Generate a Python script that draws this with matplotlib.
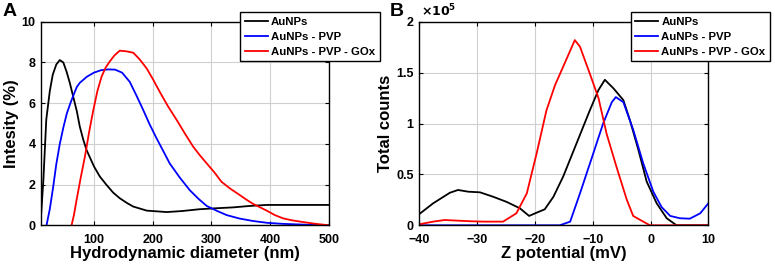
import matplotlib
matplotlib.use("Agg")
import matplotlib.pyplot as plt

plt.rcParams['font.family'] = ['Liberation Sans', 'DejaVu Sans']
plt.rcParams['font.weight'] = 'bold'

labels = ["AuNPs", "AuNPs - PVP", "AuNPs - PVP - GOx"]
colors = ["black", "blue", "red"]

# Panel A: hydrodynamic diameter (nm) vs intensity (%)
a_black_x = [9, 14, 19, 25, 30, 36, 42, 48, 53.5, 59, 65, 71, 76, 82, 87.5, 100, 110, 121.6, 133, 144, 156, 167, 190, 224, 250, 280, 310, 337, 365, 394, 430, 460, 500]
a_black_y = [0, 2.2, 5.2, 6.6, 7.4, 7.9, 8.12, 8.0, 7.55, 7.0, 6.3, 5.6, 4.85, 4.2, 3.7, 2.9, 2.4, 1.98, 1.6, 1.33, 1.1, 0.92, 0.72, 0.65, 0.7, 0.79, 0.84, 0.88, 0.95, 1.0, 1.0, 1.0, 1.0]
a_blue_x = [19.4, 25, 30.8, 36, 42, 48, 54, 60, 66, 71, 76, 88, 100, 112, 124, 136, 148, 161, 172, 184, 195, 206.7, 218, 229, 246, 263, 278, 292, 310, 326, 348, 371, 395, 422, 460, 500]
a_blue_y = [0, 0.8, 1.9, 3.0, 4.0, 4.8, 5.5, 6.0, 6.45, 6.8, 7.0, 7.3, 7.5, 7.62, 7.66, 7.65, 7.5, 7.05, 6.4, 5.66, 4.95, 4.27, 3.65, 3.04, 2.35, 1.73, 1.3, 0.95, 0.7, 0.5, 0.33, 0.21, 0.12, 0.07, 0.03, 0]
a_red_x = [62, 66, 70.5, 78, 84.7, 92, 99, 106, 113, 120, 127, 135, 144, 155, 167, 178, 190, 201, 212, 226, 241, 255, 269, 280, 292, 305, 317, 332, 348, 360, 371, 383, 394, 408, 422, 436, 451, 475, 500]
a_red_y = [0, 0.5, 1.24, 2.4, 3.37, 4.6, 5.66, 6.6, 7.3, 7.75, 8.05, 8.35, 8.58, 8.55, 8.48, 8.15, 7.7, 7.15, 6.56, 5.85, 5.17, 4.5, 3.86, 3.45, 3.04, 2.6, 2.14, 1.8, 1.49, 1.25, 1.05, 0.88, 0.72, 0.5, 0.34, 0.25, 0.18, 0.08, 0]

# Panel B: zeta potential (mV) vs total counts (x1e5)
b_black_x = [-40, -37.6, -34.7, -33.3, -31.5, -29.5, -27.2, -24.9, -22.6, -21, -19.7, -18.3, -16.8, -15.1, -12.8, -10.5, -9.0, -7.9, -6.4, -4.7, -3.55, -2.1, -0.67, 1.06, 2.8, 4.5, 10]
b_black_y = [0.11, 0.216, 0.32, 0.347, 0.33, 0.324, 0.28, 0.23, 0.167, 0.092, 0.124, 0.157, 0.28, 0.48, 0.805, 1.13, 1.33, 1.43, 1.345, 1.23, 1.03, 0.74, 0.43, 0.216, 0.069, 0, 0]
b_blue_x = [-40, -15.7, -13.9, -12.2, -9.9, -8.2, -6.7, -6.0, -4.7, -3.0, -1.27, 0.48, 1.9, 3.4, 5.1, 6.8, 8.6, 10]
b_blue_y = [0, 0, 0.036, 0.314, 0.707, 1.0, 1.21, 1.26, 1.21, 0.94, 0.61, 0.33, 0.18, 0.092, 0.069, 0.065, 0.118, 0.216]
b_red_x = [-40, -37.6, -35.6, -33.5, -31.2, -28.9, -25.5, -23.2, -21.4, -19.7, -18, -16.5, -15.1, -13.6, -13.1, -12.2, -10.5, -9.0, -7.6, -5.9, -4.1, -3.0, -1.27, -0.1, 10]
b_red_y = [0.01, 0.036, 0.052, 0.046, 0.04, 0.036, 0.036, 0.118, 0.314, 0.707, 1.13, 1.38, 1.56, 1.755, 1.82, 1.755, 1.49, 1.25, 0.90, 0.576, 0.25, 0.092, 0.036, 0, 0]

fig = plt.figure(figsize=(7.75, 2.69), dpi=100)
axA = fig.add_axes([0.0529, 0.1625, 0.3716, 0.7565])
axB = fig.add_axes([0.541, 0.1625, 0.373, 0.7565])

def style(ax):
    ax.grid(True, color='#d0d0d0', linewidth=0.8)
    ax.set_axisbelow(True)
    for s in ax.spines.values():
        s.set_linewidth(1.0)
        s.set_color('black')
    ax.tick_params(direction='in', length=3, width=0.8, labelsize=9,
                   top=True, right=True)
    ax.tick_params(axis='x', pad=6)
    ax.tick_params(axis='y', pad=4)
    for t in ax.get_xticklabels() + ax.get_yticklabels():
        t.set_fontweight('bold')

for xs, ys, c, l in zip([a_black_x, a_blue_x, a_red_x], [a_black_y, a_blue_y, a_red_y], colors, labels):
    axA.plot(xs, ys, color=c, lw=1.3, label=l)
axA.set_xlim(10, 500)
axA.set_ylim(0, 10)
axA.set_xticks([100, 200, 300, 400, 500])
axA.set_yticks([0, 2, 4, 6, 8, 10])
axA.set_xlabel("Hydrodynamic diameter (nm)", fontsize=12, fontweight='bold', labelpad=0)
axA.set_ylabel("Intesity (%)", fontsize=12, fontweight='bold', labelpad=2)
style(axA)

for xs, ys, c, l in zip([b_black_x, b_blue_x, b_red_x], [b_black_y, b_blue_y, b_red_y], colors, labels):
    axB.plot(xs, ys, color=c, lw=1.3, label=l)
axB.set_xlim(-40, 10)
axB.set_ylim(0, 2)
axB.set_xticks([-40, -30, -20, -10, 0, 10])
axB.set_yticks([0, 0.5, 1, 1.5, 2])
axB.set_yticklabels(["0", "0.5", "1", "1.5", "2"])
axB.set_xlabel("Z potential (mV)", fontsize=12, fontweight='bold', labelpad=0)
axB.set_ylabel("Total counts", fontsize=12, fontweight='bold', labelpad=2)
style(axB)
axB.text(0.005, 1.01, r"$\times10^{5}$", transform=axB.transAxes, fontsize=9,
         ha='left', va='bottom', fontweight='normal')

for ax, right in [(axA, 0.490), (axB, 0.9935)]:
    leg = ax.legend(loc='upper right', bbox_to_anchor=(right, 0.955),
                    bbox_transform=fig.transFigure, fontsize=8.2, frameon=True,
                    fancybox=False, handlelength=2.0, handletextpad=0.3,
                    borderpad=0.4, labelspacing=0.45, borderaxespad=0)
    leg.get_frame().set_edgecolor('black')
    leg.get_frame().set_linewidth(1.0)
    leg.get_frame().set_alpha(1)
    for t in leg.get_texts():
        t.set_fontweight('bold')

fig.text(0.003, 0.99, "A", fontsize=14, fontweight='bold', va='top', ha='left')
fig.text(0.503, 0.99, "B", fontsize=14, fontweight='bold', va='top', ha='left')

fig.savefig("out.png", dpi=100)
